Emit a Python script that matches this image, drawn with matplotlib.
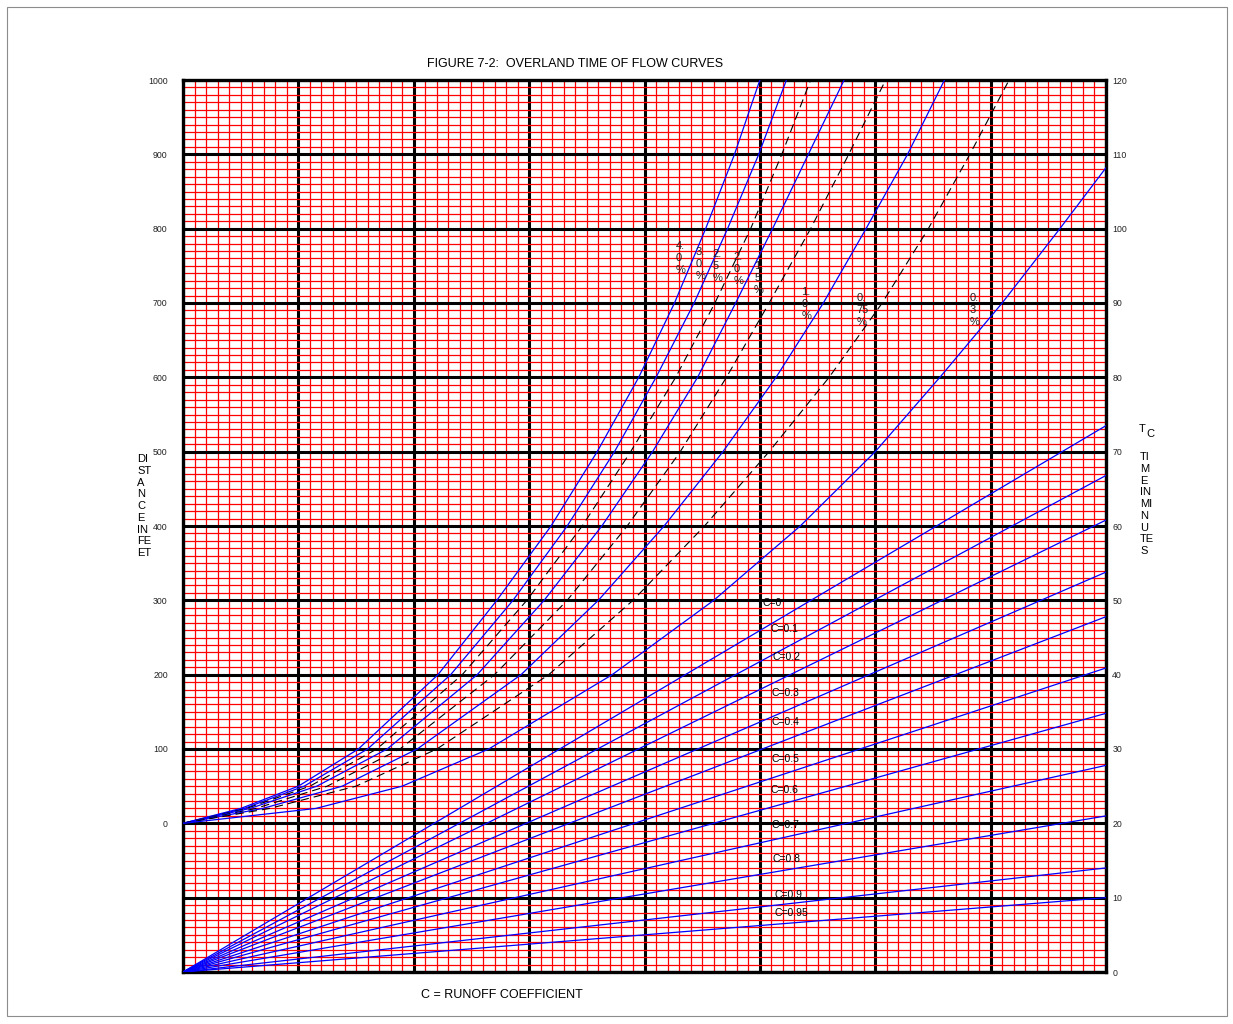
"""Figure 7-2: overland time of flow curves (nomograph on red grid paper)."""

import numpy as np
import matplotlib
matplotlib.use("Agg")
import matplotlib.pyplot as plt
from matplotlib.patches import Rectangle

plt.rcParams["font.family"] = ["Liberation Sans", "DejaVu Sans"]

# --- data --------------------------------------------------------------------
# upper family: distance (ft) vs. horizontal position for each slope
feet_levels = [0, 20, 50, 100, 200, 300, 400, 500, 600, 700, 800, 900, 1000]
x_s40 = [0, 0.50, 1.00, 1.52, 2.21, 2.72, 3.19, 3.59, 3.95, 4.26, 4.53, 4.78, 5.00]
x_s30 = [0, 0.53, 1.05, 1.60, 2.32, 2.86, 3.33, 3.74, 4.10, 4.43, 4.72, 4.99, 5.23]
x_s25 = [0, 0.55, 1.10, 1.68, 2.42, 2.98, 3.46, 3.88, 4.27, 4.61, 4.92, 5.19, 5.44]
x_s20 = [0, 0.58, 1.16, 1.77, 2.55, 3.13, 3.63, 4.07, 4.46, 4.79, 5.11, 5.42, 5.73]
x_s15 = [0, 0.63, 1.25, 1.88, 2.70, 3.33, 3.85, 4.31, 4.71, 5.08, 5.44, 5.77, 6.09]
x_s10 = [0, 0.69, 1.38, 2.03, 2.93, 3.60, 4.17, 4.68, 5.14, 5.55, 5.92, 6.28, 6.60]
x_s075 = [0, 0.75, 1.50, 2.20, 3.17, 3.90, 4.52, 5.08, 5.60, 6.06, 6.46, 6.82, 7.16]
feet_s03 = [0, 20, 50, 100, 200, 300, 400, 500, 600, 700, 800, 882]
x_s03 = [0, 1.15, 1.90, 2.65, 3.72, 4.60, 5.35, 6.00, 6.56, 7.10, 7.60, 8.00]

slope_labels = ["4.\n0\n%", "3.\n0\n%", "2.\n5\n%", "2.\n0\n%",
                "1.\n5\n%", "1.\n0\n%", "0.\n75\n%", "0.\n3\n%"]
slope_dashed = [False, False, True, False, True, False, True, False]

# lower family: runoff coefficient lines, time (min) reached at right edge
c_values = ["0", "0.1", "0.2", "0.3", "0.4", "0.5", "0.6", "0.7", "0.8", "0.9", "0.95"]
c_line_x = [0, 8]
c_time_at_edge = [73.5, 66.8, 60.8, 53.8, 47.8, 40.9, 34.8, 27.8, 21.0, 14.0, 10.0]

time_ticks = list(range(0, 121, 10))
feet_ticks = list(range(0, 1001, 100))

# --- label anchors (data coords) --------------------------------------------
slope_label_pos = [(4.27, 784), (4.44, 776), (4.59, 772), (4.77, 769),
                   (4.95, 757), (5.36, 722), (5.84, 713), (6.82, 713)]
c_label_pos = [(5.02, 49.6), (5.09, 46.1), (5.11, 42.4), (5.10, 37.5),
               (5.10, 33.6), (5.10, 28.7), (5.09, 24.5), (5.10, 19.8),
               (5.11, 15.2), (5.13, 10.4), (5.13, 7.9)]

W, H = 1233, 1024
fig = plt.figure(figsize=(W / 100, H / 100), dpi=100)
ax = fig.add_axes([183 / W, 1 - 972 / H, (1106 - 183) / W, (972 - 80) / H])
# distance axis on the left, sharing x (twinx resets tick sides, so make it first)
ax_ft = ax.twinx()

# grid paper
ax.set_xlim(0, 8)
ax.set_ylim(0, 120)
ax.set_xticks(np.arange(0, 9))
ax.set_xticks(np.arange(0, 8.001, 0.1), minor=True)
ax.set_yticks(time_ticks)
ax.set_yticks(np.arange(0, 121, 1), minor=True)
ax.grid(which="minor", color="#ff0000", lw=0.9)
ax.grid(which="major", color="black", lw=2.2)
ax.set_axisbelow(True)
ax.tick_params(which="both", length=0, labelbottom=False,
               left=False, labelleft=False, right=False, labelright=True)
ax.set_yticklabels([str(t) for t in time_ticks], fontsize=6.3, color="#222222")
ax.tick_params(axis="y", pad=4.5)
for sp in ax.spines.values():
    sp.set_linewidth(2.4)
    sp.set_color("black")

# C lines
for t in c_time_at_edge:
    ax.plot(c_line_x, [0, t], color="blue", lw=0.9, zorder=3)
for lab, (lx, ly) in zip(c_values, c_label_pos):
    ax.text(lx, ly, f"C={lab}", fontsize=7.5, ha="left", va="center", zorder=4)

ax_ft.set_ylim(-200, 1000)
ax_ft.set_yticks(feet_ticks)
ax_ft.set_yticklabels([str(f) for f in feet_ticks], fontsize=6.3, color="#222222")
ax_ft.tick_params(axis="y", length=0, pad=11, left=False, labelleft=True,
                  right=False, labelright=False)
for sp in ax_ft.spines.values():
    sp.set_visible(False)

slope_x = [x_s40, x_s30, x_s25, x_s20, x_s15, x_s10, x_s075, x_s03]
slope_ft = [feet_levels] * 7 + [feet_s03]
for xs, fs, dashed in zip(slope_x, slope_ft, slope_dashed):
    if dashed:
        ax_ft.plot(xs, fs, color="black", lw=0.8, dashes=(7.5, 4.5), zorder=3)
    else:
        ax_ft.plot(xs, fs, color="blue", lw=0.9, zorder=3)
for lab, (lx, ly) in zip(slope_labels, slope_label_pos):
    ax_ft.text(lx, ly, lab, fontsize=8, ha="left", va="top",
               linespacing=1.25, color="#222222", zorder=4)

# titles and axis captions
fig.text(575 / W, 1 - 64 / H, "FIGURE 7-2:  OVERLAND TIME OF FLOW CURVES",
         fontsize=9, ha="center", va="center")
fig.text(502 / W, 1 - 995 / H, "C = RUNOFF COEFFICIENT",
         fontsize=9, ha="center", va="center")
fig.text(137 / W, 1 - 454 / H, "DI\nST\nA\nN\nC\nE\nIN\nFE\nET",
         fontsize=8, ha="left", va="top", linespacing=1.22)
fig.text(1139 / W, 1 - 429 / H, "T", fontsize=8, ha="left", va="center")
fig.text(1146 / W, 1 - 434 / H, "C", fontsize=8, ha="left", va="center")
fig.text(1140 / W, 1 - 452 / H, "TI\nM\nE\nIN\nMI\nN\nU\nTE\nS",
         fontsize=8, ha="left", va="top", linespacing=1.22)

# page frame
fig.add_artist(Rectangle((7 / W, 1 - 1016 / H), 1220 / W, 1009 / H,
                         transform=fig.transFigure, fill=False,
                         edgecolor="#8c8c8c", lw=0.8))

fig.savefig("out.png", dpi=100)
